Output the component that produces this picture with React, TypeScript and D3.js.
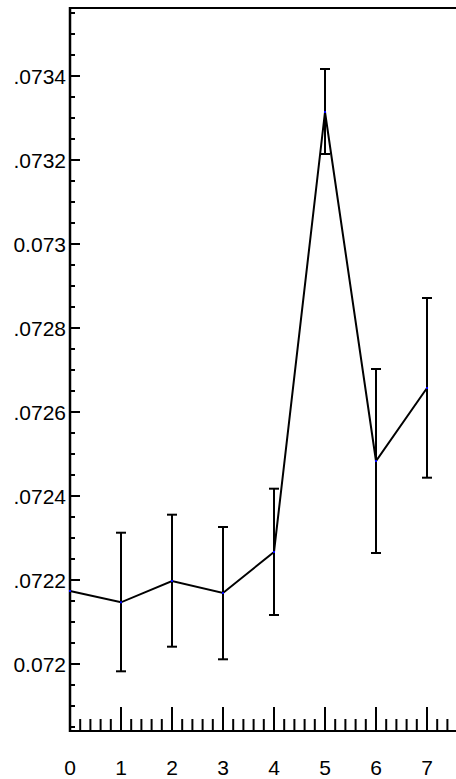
import React from "react";
import * as d3 from "d3";

const xValues = [0, 1, 2, 3, 4, 5, 6, 7];
const yMeans = [0.0721738, 0.0721469, 0.0721976, 0.072169, 0.0722667, 0.0733143, 0.0724833, 0.0726571];
const yUpper = [null, 0.0723126, 0.0723555, 0.0723262, 0.0724174, 0.0734167, 0.0727024, 0.0728714];
const yLower = [null, 0.0719826, 0.0720412, 0.0720112, 0.0721167, 0.0732143, 0.0722643, 0.0724436];
const yTickValues = [0.072, 0.0722, 0.0724, 0.0726, 0.0728, 0.073, 0.0732, 0.0734];
const yTickLabels = ["0.072", ".0722", ".0724", ".0726", ".0728", "0.073", ".0732", ".0734"];
const xTickValues = [0, 1, 2, 3, 4, 5, 6, 7];
const xTickLabels = ["0", "1", "2", "3", "4", "5", "6", "7"];

const W = 456;
const H = 779;
const left = 70;
const top = 8;
const bottom = 731;

export default function App() {
  const x = d3.scaleLinear().domain([0, 7.6]).range([left, left + 7.6 * 51]);
  const y = d3
    .scaleLinear()
    .domain([0.072 - 67 / 420000, 0.072 + 656 / 420000])
    .range([bottom, top]);

  const xMinor = d3.range(0, 7.61, 0.2).filter((v) => Math.abs(v - Math.round(v)) > 1e-6);
  const [yLo, yHi] = y.domain();
  const yMinor: number[] = [];
  for (let k = Math.ceil(yLo / 0.00005); k * 0.00005 <= yHi; k++) {
    const v = k * 0.00005;
    if (Math.abs(v / 0.0002 - Math.round(v / 0.0002)) > 1e-6) yMinor.push(v);
  }

  const line = d3
    .line<number>()
    .x((_, i) => x(xValues[i]))
    .y((d) => y(d));

  const font = "'Liberation Sans', Arial, sans-serif";

  return (
    <svg
      width={W}
      height={H}
      style={{ position: "absolute", left: 0, top: 0, background: "#fff" }}
      fontFamily={font}
    >
      {/* frame */}
      <line x1={left} x2={W} y1={top} y2={top} stroke="#000" strokeWidth={2} />
      <line x1={left} x2={W} y1={bottom} y2={bottom} stroke="#000" strokeWidth={2} />
      <line x1={left} x2={left} y1={top - 1} y2={bottom + 1} stroke="#000" strokeWidth={2.5} />

      {/* x ticks */}
      {xMinor.map((v, i) => (
        <line key={"xm" + i} x1={x(v)} x2={x(v)} y1={bottom} y2={bottom - 12} stroke="#000" strokeWidth={2} />
      ))}
      {xTickValues.map((v, i) => (
        <g key={"xt" + i}>
          <line x1={x(v)} x2={x(v)} y1={bottom} y2={bottom - 24} stroke="#000" strokeWidth={2} />
          <text x={x(v)} y={775} textAnchor="middle" fontSize={21} fill="#000">
            {xTickLabels[i]}
          </text>
        </g>
      ))}

      {/* y ticks */}
      {yMinor.map((v, i) => (
        <line key={"ym" + i} x1={left} x2={left + 5} y1={y(v)} y2={y(v)} stroke="#000" strokeWidth={2} />
      ))}
      {yTickValues.map((v, i) => (
        <g key={"yt" + i}>
          <line x1={left} x2={left + 10} y1={y(v)} y2={y(v)} stroke="#000" strokeWidth={2} />
          <text x={66} y={y(v) + 7.5} textAnchor="end" fontSize={21} fill="#000">
            {yTickLabels[i]}
          </text>
        </g>
      ))}

      {/* error bars */}
      {xValues.map((xv, i) => {
        const hi = yUpper[i];
        const lo = yLower[i];
        if (hi == null || lo == null) return null;
        const cx = x(xv);
        return (
          <g key={"eb" + i} stroke="#000" strokeWidth={2}>
            <line x1={cx} x2={cx} y1={y(hi)} y2={y(lo)} />
            <line x1={cx - 5} x2={cx + 5} y1={y(hi)} y2={y(hi)} />
            <line x1={cx - 5} x2={cx + 5} y1={y(lo)} y2={y(lo)} />
          </g>
        );
      })}

      {/* line */}
      <path d={line(yMeans) || ""} fill="none" stroke="#000" strokeWidth={2} />

      {/* points */}
      {yMeans.map((v, i) => (
        <rect key={"pt" + i} x={x(xValues[i]) - 1} y={y(v) - 1} width={2} height={2} fill="#0000ff" />
      ))}
    </svg>
  );
}
